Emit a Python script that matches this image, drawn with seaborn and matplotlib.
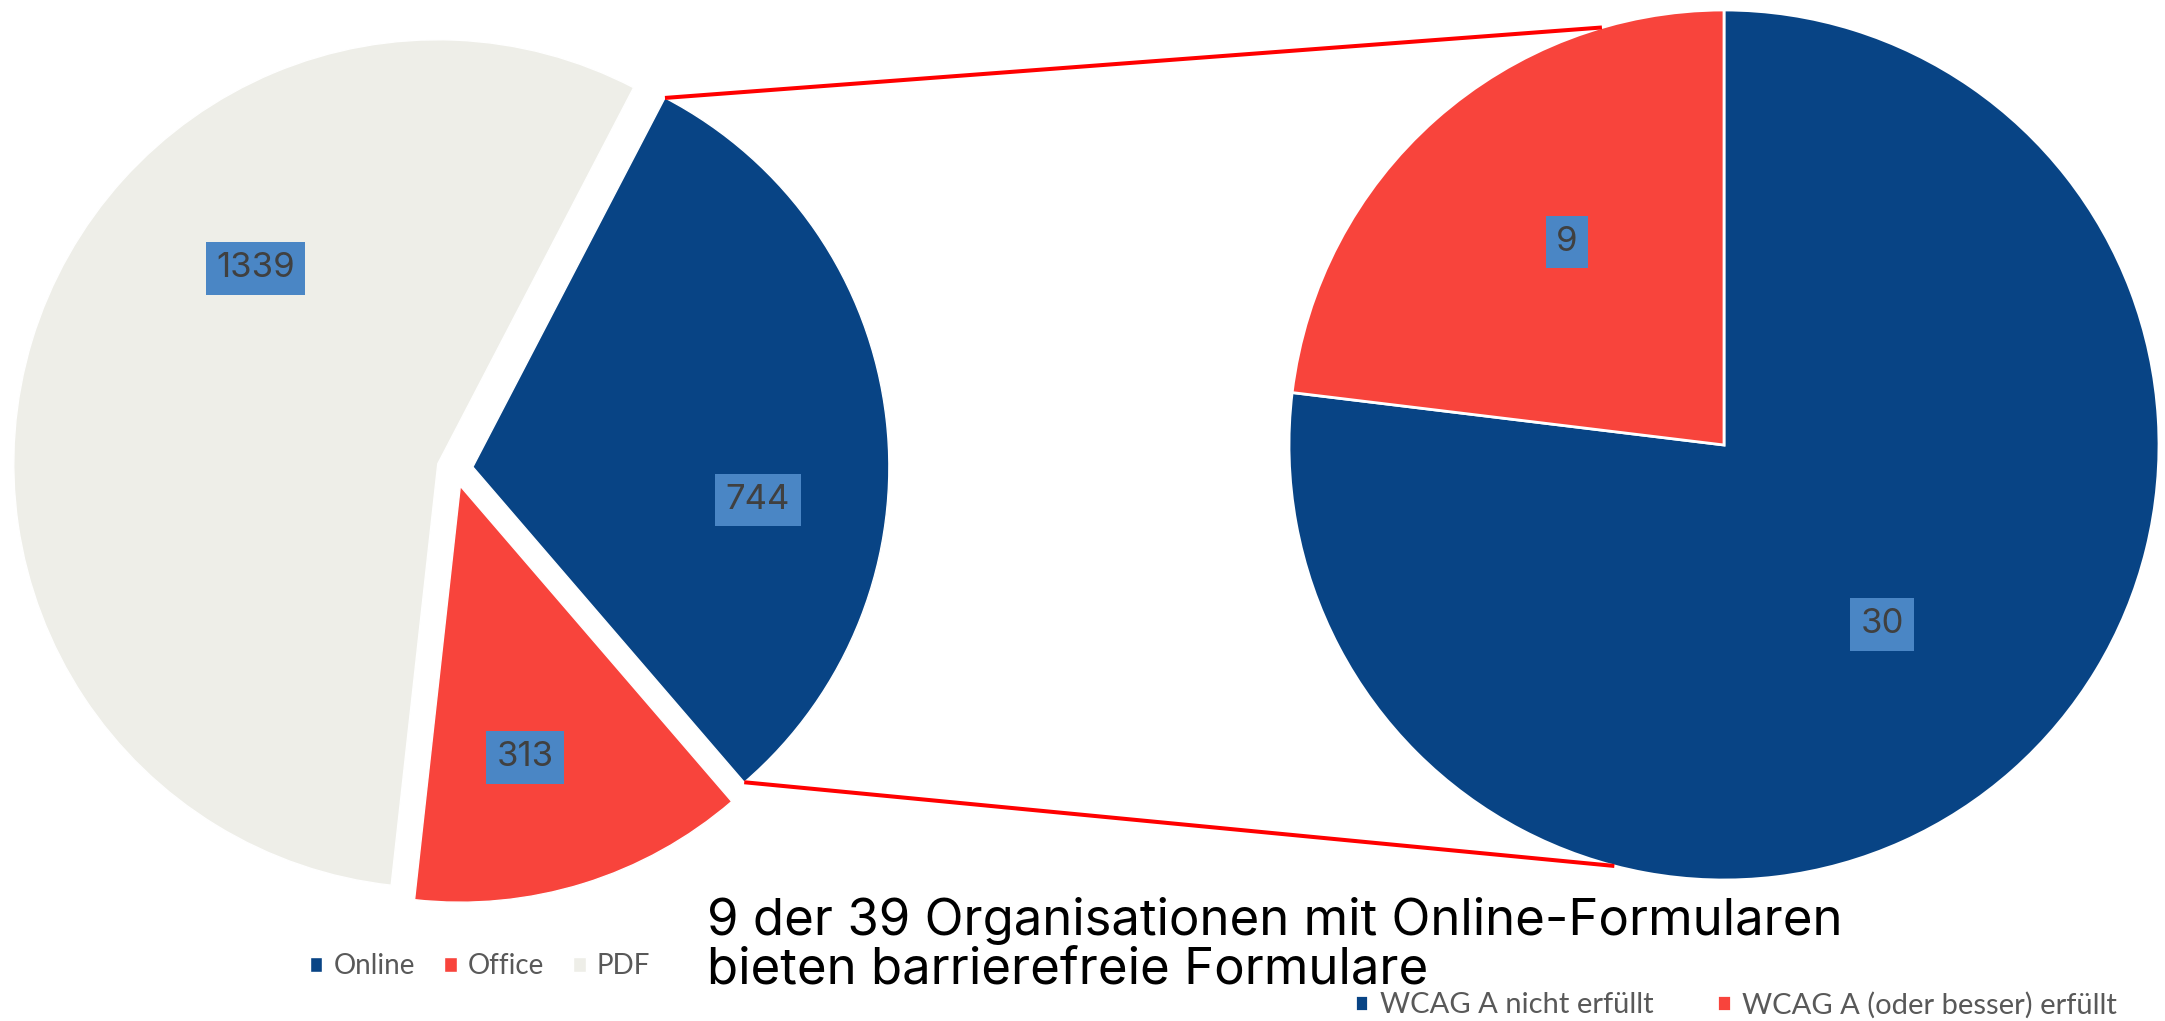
import numpy as np
import pandas as pd
import seaborn as sns
import matplotlib.pyplot as plt

# === Daten ===
formular_typen = ['Online', 'Office', 'PDF']
formular_anzahl = [744, 313, 1339]
wcag_kategorien = ['WCAG A nicht erfüllt', 'WCAG A (oder besser) erfüllt']
wcag_anzahl = [30, 9]
titel_zeilen = ['9 der 39 Organisationen mit Online-Formularen',
                'bieten barrierefreie Formulare']

farben_links = sns.color_palette(['#084485', '#F8443C', '#EEEEE8'])
farben_rechts = sns.color_palette(['#084485', '#F8443C'])

sns.set_style('white')
plt.rcParams['font.family'] = ['Inter', 'DejaVu Sans']

W, H = 2165, 1021
fig = plt.figure(figsize=(W / 100, H / 100), dpi=100)
ax = fig.add_axes([0, 0, 1, 1])

# linker Kreis (explodiert), rechter Kreis
mitte_l, r_l = (455, 552), 416
mitte_r, r_r = (1724, 576), 435

wedges_l, _ = ax.pie(formular_anzahl, colors=farben_links, startangle=62.5,
                     counterclock=False, center=mitte_l, radius=r_l,
                     explode=[18] * len(formular_anzahl))
wedges_l[2].set_radius(424)  # PDF-Segment etwas groesser wie im Original
wedges_r, _ = ax.pie(wcag_anzahl, colors=farben_rechts, startangle=90,
                     counterclock=False, center=mitte_r, radius=r_r,
                     wedgeprops=dict(edgecolor='white', linewidth=2))

ax.set_xlim(0, W)
ax.set_ylim(0, H)
ax.set_aspect('equal')
ax.axis('off')


def punkt(c, r, winkel, anteil=1.0):
    a = np.radians(winkel)
    return c[0] + anteil * r * np.cos(a), c[1] + anteil * r * np.sin(a)


# Beschriftungen (Winkel / Radiusanteil je Segment)
lage_l = [(-6.6, 0.69), (-76.6, 0.67), (133.0, 0.63)]
lage_r = [(-48.6, 0.55), (127.7, 0.59)]
for wedges, werte, lagen in [(wedges_l, formular_anzahl, lage_l), (wedges_r, wcag_anzahl, lage_r)]:
    for w, v, (wi, an) in zip(wedges, werte, lagen):
        x, y = punkt(w.center, w.r, wi, an)
        ax.text(x, y, str(v), ha='center', va='center', fontsize=25, color='#404040',
                bbox=dict(boxstyle='square,pad=0.3', fc='#4A86C5', ec='none'), zorder=5)

# Verbindungslinien vom Online-Segment zum rechten Kreis
w_on = wedges_l[0]
for th_l, th_r in [(w_on.theta2, 106.3), (w_on.theta1, -104.6)]:
    x0, y0 = punkt(w_on.center, w_on.r, th_l)
    x1, y1 = punkt(mitte_r, r_r, th_r)
    ax.plot([x0, x1], [y0, y1], color='#FF0000', lw=2.9, solid_capstyle='butt', zorder=4)

# Titel
t1 = ax.text(707, H - 935, titel_zeilen[0], fontsize=40, ha='left', va='baseline', color='black')
fig.canvas.draw()
bb = t1.get_window_extent(renderer=fig.canvas.get_renderer())
fs = 40 * 1136 / bb.width
t1.set_fontsize(fs)
ax.text(707, H - 984, titel_zeilen[1], fontsize=fs, ha='left', va='baseline', color='black')

# Legenden
fig.legend(wedges_l, formular_typen, loc='center', bbox_to_anchor=(480 / W, 55 / H), ncol=3,
           frameon=False, handlelength=0.45, handleheight=0.45, handletextpad=0.4,
           columnspacing=1.05, prop={'family': ['Lato', 'DejaVu Sans'], 'size': 20},
           labelcolor='#595959')
fig.legend(wedges_r, wcag_kategorien, loc='center', bbox_to_anchor=(1736 / W, 16 / H), ncol=2,
           frameon=False, handlelength=0.45, handleheight=0.45, handletextpad=0.4,
           columnspacing=2.2, prop={'family': ['Lato', 'DejaVu Sans'], 'size': 21},
           labelcolor='#595959')

fig.savefig('out.png', dpi=100, facecolor='white')
